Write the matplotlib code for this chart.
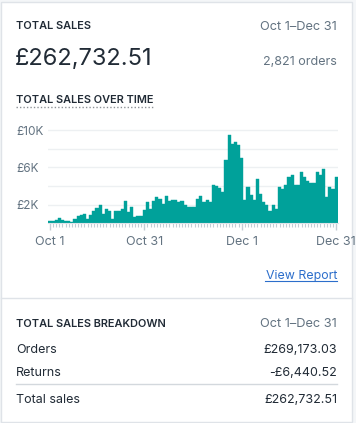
import matplotlib.pyplot as plt
from matplotlib.patches import Rectangle

plt.rcParams['font.family'] = ['Inter', 'DejaVu Sans']

W, H = 356, 423

# daily total sales Oct 1 - Dec 31 (£ thousands)
daily_sales_k = [
    0.2, 0.25, 0.35, 0.55, 0.35, 0.3, 0.3, 0.15, 0.45, 0.75,
    0.85, 0.95, 0.5, 0.9, 1.3, 1.6, 1.95, 1.0, 1.55, 1.3,
    0.45, 1.35, 1.35, 1.5, 2.35, 1.25, 1.7, 0.65, 0.8, 0.8,
    1.45, 2.3, 1.5, 2.45, 2.85, 2.65, 2.1, 2.9, 2.4, 2.5,
    2.5, 2.25, 2.4, 2.0, 1.8, 1.8, 1.8, 2.6, 2.9, 2.3,
    2.5, 2.25, 4.1, 4.0, 3.8, 3.4, 6.8, 9.5, 8.5, 8.7,
    8.4, 7.0, 2.5, 3.9, 3.0, 2.5, 4.8, 3.1, 2.25, 2.0,
    1.3, 2.0, 1.5, 3.9, 3.7, 4.1, 5.0, 5.2, 4.1, 4.1,
    5.55, 4.95, 4.6, 4.3, 4.3, 5.55, 5.2, 5.8, 2.8, 3.9,
    3.65, 5.0,
]
tick_days = [0, 30, 61, 91]
tick_labels = ["Oct 1", "Oct 31", "Dec 1", "Dec 31"]
y_ticks_k = [2, 4, 6, 8, 10]
y_labels = ["£2K", "", "£6K", "", "£10K"]

period = "Oct 1–Dec 31"
total_sales = "£262,732.51"
order_count = "2,821 orders"
row_names = ["Orders", "Returns"]
row_values = ["£269,173.03", "-£6,440.52"]

dark = '#212b36'
grey = '#637381'
teal = '#00a19a'
line_c = '#dfe3e8'

fig = plt.figure(figsize=(W / 100, H / 100), dpi=100)
fig.patch.set_facecolor('#f4f6f8')

# background axes in pixel coordinates for the card and its text
bg = fig.add_axes([0, 0, 1, 1])
bg.set_xlim(0, W)
bg.set_ylim(H, 0)
bg.axis('off')
bg.add_patch(Rectangle((1, 2), 351, 420, facecolor='white', edgecolor=line_c, lw=1))

L, R = 16, 337
head = dict(fontsize=7.9, fontweight='semibold', color=dark, va='baseline')
bg.text(L, 29, "TOTAL SALES", **head)
bg.text(R, 30, period, fontsize=9.2, color=grey, ha='right', va='baseline')
bg.text(L - 1, 65, total_sales, fontsize=17, color=dark, va='baseline')
bg.text(R, 65, order_count, fontsize=9, color=grey, ha='right', va='baseline')
bg.text(L, 103, "TOTAL SALES OVER TIME", **head)
bg.plot([L, 153], [107.5, 107.5], ls=(0, (1, 1.5)), color='#8c9196', lw=1)

bg.text(R, 279, "View Report", fontsize=8.9, color='#2c6ecb', ha='right', va='baseline')
bg.plot([265, R], [281, 281], color='#2c6ecb', lw=0.8)

bg.plot([1, 352], [298.3, 298.3], color=line_c, lw=1)
bg.text(L, 326.7, "TOTAL SALES BREAKDOWN", **head)
bg.text(R, 327, period, fontsize=9.2, color=grey, ha='right', va='baseline')
for i, (name, val) in enumerate(zip(row_names, row_values)):
    yb = 353.3 + i * 22.7
    bg.text(L, yb, name, fontsize=9, color=dark, va='baseline')
    bg.text(R, yb, val, fontsize=9, color=dark, ha='right', va='baseline')
bg.plot([L, R], [384.3, 384.3], color='#d3d8dd', lw=1)
bg.text(L, 402.7, "Total sales", fontsize=9, color=dark, va='baseline')
bg.text(R, 402.7, total_sales, fontsize=9, color=dark, ha='right', va='baseline')

# bar chart
x0, x1 = 48.3, 337.7
y_base, y_top = 223.3, 128.4
ax = fig.add_axes([x0 / W, (H - y_base) / H, (x1 - x0) / W, (y_base - y_top) / H])
ax.set_facecolor('none')
ax.bar(range(len(daily_sales_k)), daily_sales_k, width=1.0, color=teal,
       edgecolor=teal, linewidth=0.3, zorder=2)
ax.set_xlim(-0.5, len(daily_sales_k) - 0.5)
ax.set_ylim(0, 10.2)

ax.set_yticks(y_ticks_k)
ax.set_yticklabels(y_labels)
ax.yaxis.grid(True, color='#edf0f2', lw=1, zorder=0)
ax.tick_params(axis='y', length=0, pad=(x0 - L) * 0.72, labelsize=8.5, labelcolor=grey)
for lab in ax.get_yticklabels():
    lab.set_horizontalalignment('left')

ax.set_xticks(tick_days)
ax.set_xticklabels(tick_labels)
ax.set_xticks(range(len(daily_sales_k)), minor=True)
ax.tick_params(axis='x', which='major', length=5, width=1, color='#c4cdd5',
               labelsize=9, labelcolor=grey, pad=4)
ax.tick_params(axis='x', which='minor', length=3, width=0.8, color='#c4cdd5')

for s in ['top', 'right', 'left']:
    ax.spines[s].set_visible(False)
ax.spines['bottom'].set_color(line_c)

fig.savefig('out.png', dpi=100, facecolor=fig.get_facecolor())
